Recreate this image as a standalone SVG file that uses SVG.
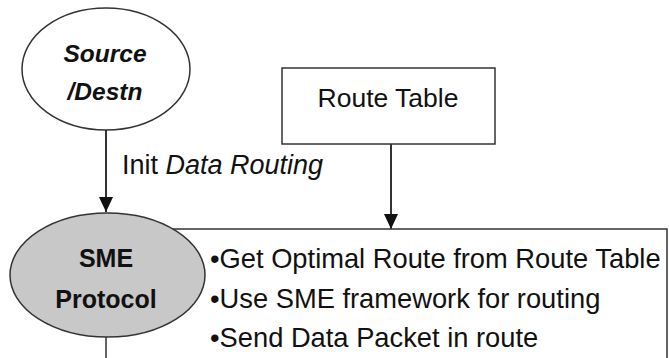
<svg xmlns="http://www.w3.org/2000/svg" width="669" height="358" viewBox="0 0 669 358">
  <defs>
    <marker id="arrow" viewBox="0 0 15 14" refX="15" refY="7" markerWidth="15" markerHeight="14" markerUnits="userSpaceOnUse" orient="auto">
      <path d="M0,0 L15,7 L0,14 Z" fill="#111"/>
    </marker>
    <style>
      text { font-family: "Liberation Sans", Arial, sans-serif; fill: #111; }
      .edge { stroke: #333; stroke-width: 2; fill: none; }
      .shape { stroke: #333; stroke-width: 1.5; }
      .bold { font-weight: bold; }
      .it { font-style: italic; }
      .item { font-size: 27.3px; }
    </style>
  </defs>
  <rect width="669" height="358" fill="#fff"/>

  <g id="connectors">
    <line class="edge" x1="106" y1="130" x2="106" y2="212" marker-end="url(#arrow)"/>
    <line class="edge" x1="391" y1="144" x2="391" y2="229" marker-end="url(#arrow)"/>
    <text x="122" y="174" font-size="27">Init <tspan class="it">Data Routing</tspan></text>
  </g>

  <g id="sme-actions">
    <rect class="shape" x="106" y="229" width="561" height="160" fill="#fff"/>
    <text class="item" x="210" y="268">•Get Optimal Route from Route Table</text>
    <text class="item" x="210" y="308">•Use SME framework for routing</text>
    <text class="item" x="210" y="347">•Send Data Packet in route</text>
  </g>

  <g id="source-destn">
    <ellipse class="shape" cx="106" cy="69" rx="84" ry="61" fill="#fff"/>
    <text class="bold it" x="105" y="62" font-size="24.5" text-anchor="middle">Source</text>
    <text class="bold it" x="105" y="100" font-size="24.5" text-anchor="middle">/Destn</text>
  </g>

  <g id="route-table">
    <rect class="shape" x="282" y="68" width="213" height="76" fill="#fff"/>
    <text x="388" y="107" font-size="26.5" text-anchor="middle">Route Table</text>
  </g>

  <g id="sme-protocol">
    <ellipse class="shape" cx="107.5" cy="275" rx="97.5" ry="62" fill="#c8c8c8"/>
    <text class="bold" x="106" y="267" font-size="25" text-anchor="middle">SME</text>
    <text class="bold" x="106" y="308" font-size="25" text-anchor="middle">Protocol</text>
  </g>
</svg>
